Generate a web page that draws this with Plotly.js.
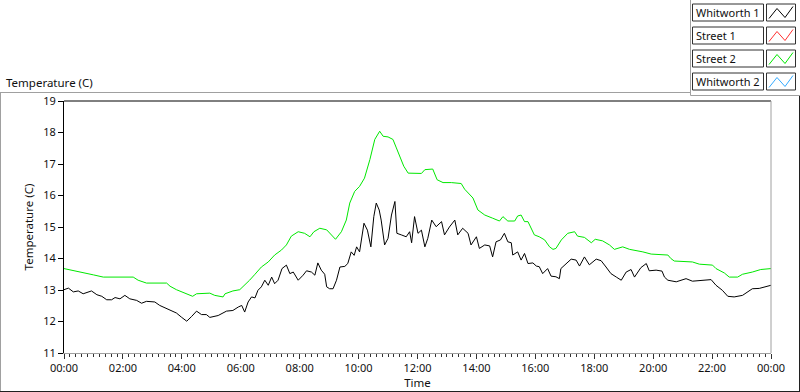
<!DOCTYPE html>
<html>
<head>
<meta charset="utf-8">
<script src="https://cdn.plot.ly/plotly-3.0.1.min.js"></script>
<style>html,body{margin:0;padding:0;background:#fff;}#chart{width:800px;height:392px;}</style>
</head>
<body>
<div id="chart"></div>
<script>
// ---- data ----
const seriesNames = ['Whitworth 1', 'Street 1', 'Street 2', 'Whitworth 2'];
const seriesColors = ['#000000', '#ff3030', '#00e800', '#33aaff'];

// Whitworth 1 (minutes after midnight, temperature C)
const whitworth1Min = [0,9,19,29,39,56,67,77,87,97,104,114,124,134,148,158,168,185,195,209,219,229,239,250,260,270,280,290,297,301,314,331,344,355,362,368,375,382,389,395,402,409,416,423,429,436,444,453,460,467,477,487,494,504,511,517,524,531,535,541,548,555,562,572,578,585,591,596,602,611,618,625,631,636,642,646,653,660,667,674,678,687,697,704,708,714,721,728,735,741,749,758,769,775,785,796,802,812,823,829,840,846,857,867,873,880,889,897,904,911,914,924,931,938,945,955,962,968,975,985,992,1002,1009,1012,1023,1033,1043,1050,1060,1070,1084,1094,1104,1114,1125,1135,1145,1155,1162,1171,1175,1186,1192,1206,1218,1223,1230,1247,1267,1280,1298,1318,1328,1341,1352,1365,1382,1392,1402,1416,1426,1440];
const whitworth1Val = [13.01,13.06,12.94,12.97,12.88,12.97,12.85,12.80,12.69,12.69,12.76,12.72,12.83,12.72,12.67,12.58,12.64,12.62,12.51,12.41,12.35,12.27,12.14,12.01,12.16,12.33,12.22,12.22,12.13,12.14,12.19,12.33,12.35,12.46,12.51,12.30,12.62,12.78,12.75,12.99,13.10,13.31,13.15,13.41,13.20,13.31,13.68,13.79,13.52,13.57,13.31,13.47,13.61,13.57,13.47,13.86,13.63,13.50,13.10,13.04,13.04,13.31,13.73,13.75,13.84,14.21,14.10,14.37,14.21,15.12,14.90,14.37,15.33,15.76,15.54,15.22,14.43,14.64,15.38,15.81,14.80,14.75,14.69,14.85,14.50,15.33,14.80,14.90,14.37,14.64,15.22,15.01,15.17,14.75,15.00,15.22,14.75,14.96,14.80,14.43,14.69,14.32,14.43,14.40,14.05,14.53,14.59,14.80,14.53,14.50,14.11,14.21,13.95,14.16,13.84,13.86,13.76,13.74,13.52,13.68,13.44,13.42,13.36,13.68,13.84,13.98,13.95,13.76,14.05,13.80,13.98,13.93,13.73,13.52,13.41,13.31,13.57,13.65,13.41,13.65,13.71,13.84,13.61,13.63,13.60,13.41,13.31,13.26,13.36,13.28,13.30,13.33,13.15,12.99,12.80,12.78,12.83,12.94,13.04,13.05,13.10,13.15];

// Street 2
const street2Min = [0,19,43,60,80,141,151,168,209,216,229,246,262,270,297,307,324,328,344,358,368,378,389,402,416,429,443,453,463,477,490,501,509,521,535,543,553,565,575,582,592,602,612,623,633,643,650,660,670,677,684,692,701,728,735,751,760,772,789,809,816,833,843,857,873,887,894,904,918,924,931,938,945,952,958,968,979,989,996,1002,1013,1026,1040,1046,1060,1074,1082,1097,1111,1121,1138,1152,1171,1179,1196,1230,1236,1243,1280,1294,1321,1328,1345,1355,1372,1382,1402,1419,1440];
const street2Val = [13.68,13.61,13.54,13.48,13.41,13.41,13.31,13.22,13.22,13.12,13.01,12.90,12.80,12.88,12.90,12.83,12.78,12.88,12.97,13.01,13.15,13.31,13.50,13.73,13.89,14.11,14.27,14.43,14.71,14.85,14.80,14.69,14.85,14.96,14.91,14.78,14.61,14.85,15.22,15.76,16.13,16.29,16.55,17.14,17.78,18.04,17.88,17.86,17.78,17.51,17.24,16.93,16.71,16.70,16.82,16.84,16.50,16.41,16.41,16.38,16.20,15.92,15.54,15.38,15.28,15.19,15.33,15.19,15.19,15.35,15.38,15.17,15.17,14.96,14.75,14.69,14.59,14.37,14.29,14.32,14.59,14.80,14.85,14.71,14.67,14.50,14.61,14.56,14.43,14.29,14.37,14.29,14.24,14.21,14.14,14.11,14.00,13.92,13.89,13.82,13.79,13.68,13.54,13.41,13.41,13.50,13.57,13.65,13.68];

// Street 1 and Whitworth 2 hold no visible data in the reference
const street1Min = [], street1Val = [];
const whitworth2Min = [], whitworth2Val = [];

const yTicks = [11,12,13,14,15,16,17,18,19];

// ---- helpers ----
function toDate(m) {
  const d = new Date(Date.UTC(2024, 0, 1) + m * 60000);
  return d.toISOString().slice(0, 19).replace('T', ' ');
}
const PL = 64, PR = 771, PT = 101, PB = 353;
const px = x => (x - PL) / (PR - PL);
const py = y => (PB - y) / (PB - PT);

const mins = [whitworth1Min, street1Min, street2Min, whitworth2Min];
const vals = [whitworth1Val, street1Val, street2Val, whitworth2Val];

const traces = seriesNames.map((n, i) => ({
  type: 'scatter', mode: 'lines', name: n,
  x: mins[i].map(toDate), y: vals[i],
  line: {color: seriesColors[i], width: 1},
  showlegend: false, hoverinfo: 'skip'
}));

const shapes = [];
const annotations = [];
function line(x0, y0, x1, y1, color) {
  shapes.push({type: 'line', xref: 'paper', yref: 'paper',
    x0: px(x0), y0: py(y0), x1: px(x1), y1: py(y1),
    line: {color: color, width: 1}});
}
// outer panel frame
line(0, 92.5, 690, 92.5, '#a0a0a0');
line(0.5, 92.5, 0.5, 391.5, '#a0a0a0');
line(0, 391.5, 800, 391.5, '#202020');
line(799.5, 95, 799.5, 391.5, '#202020');
// legend panel
line(690.5, 0, 690.5, 95.5, '#a0a0a0');
line(690.5, 95.5, 800, 95.5, '#a0a0a0');
// plot area top/right borders
line(PL, PT, PR, PT, '#000000');
line(PR, PT, PR, PB, '#a0a0a0');

// legend entries
const legendCenters = [12.5, 35.5, 58.5, 81.5];
seriesNames.forEach((n, i) => {
  const yc = legendCenters[i];
  shapes.push({type: 'rect', xref: 'paper', yref: 'paper',
    x0: px(692.5), x1: px(763.5), y0: py(yc + 8.5), y1: py(yc - 8.5),
    line: {color: '#303030', width: 1}, fillcolor: '#ffffff'});
  shapes.push({type: 'rect', xref: 'paper', yref: 'paper',
    x0: px(766.5), x1: px(795.5), y0: py(yc + 8.5), y1: py(yc - 8.5),
    line: {color: '#303030', width: 1}, fillcolor: '#ffffff'});
  const pts = [[769, yc + 6], [777, yc - 4], [785, yc + 5], [793, yc - 6]];
  shapes.push({type: 'path', xref: 'paper', yref: 'paper',
    path: 'M' + pts.map(p => px(p[0]) + ',' + py(p[1])).join(' L'),
    line: {color: seriesColors[i], width: 1}});
  annotations.push({xref: 'paper', yref: 'paper', x: px(694), y: py(yc),
    xanchor: 'left', yanchor: 'middle', showarrow: false, text: n,
    font: {size: 11, color: '#101010'}});
});
// graph label
annotations.push({xref: 'paper', yref: 'paper', x: px(4), y: py(82),
  xanchor: 'left', yanchor: 'middle', showarrow: false, text: 'Temperature (C)',
  font: {size: 11.5, color: '#101010'}});

const layout = {
  width: 800, height: 392,
  margin: {l: PL, r: 800 - PR, t: PT, b: 392 - PB},
  paper_bgcolor: '#ffffff', plot_bgcolor: '#ffffff',
  font: {family: '"Noto Sans", "Open Sans", sans-serif', size: 11, color: '#101010'},
  showlegend: false,
  xaxis: {
    type: 'date', range: [toDate(0), toDate(1440)],
    tickformat: '%H:%M', dtick: 7200000, tick0: toDate(0),
    ticks: 'outside', ticklen: 5, tickcolor: '#303030', tickwidth: 1,
    minor: {dtick: 720000, ticks: 'outside', ticklen: 3, tickcolor: '#303030', showgrid: false},
    showline: true, linecolor: '#a0a0a0', linewidth: 1,
    showgrid: false, zeroline: false, fixedrange: true,
    title: {text: 'Time', standoff: 3, font: {size: 11.5}}
  },
  yaxis: {
    range: [11, 19], tickvals: yTicks,
    ticks: 'outside', ticklen: 5, tickcolor: '#000000', tickwidth: 1,
    showline: true, linecolor: '#000000', linewidth: 1,
    showgrid: false, zeroline: false, fixedrange: true,
    title: {text: 'Temperature (C)', standoff: 7, font: {size: 11.5}}
  },
  shapes: shapes,
  annotations: annotations
};

Plotly.newPlot('chart', traces, layout, {staticPlot: true, displayModeBar: false});
</script>
</body>
</html>
